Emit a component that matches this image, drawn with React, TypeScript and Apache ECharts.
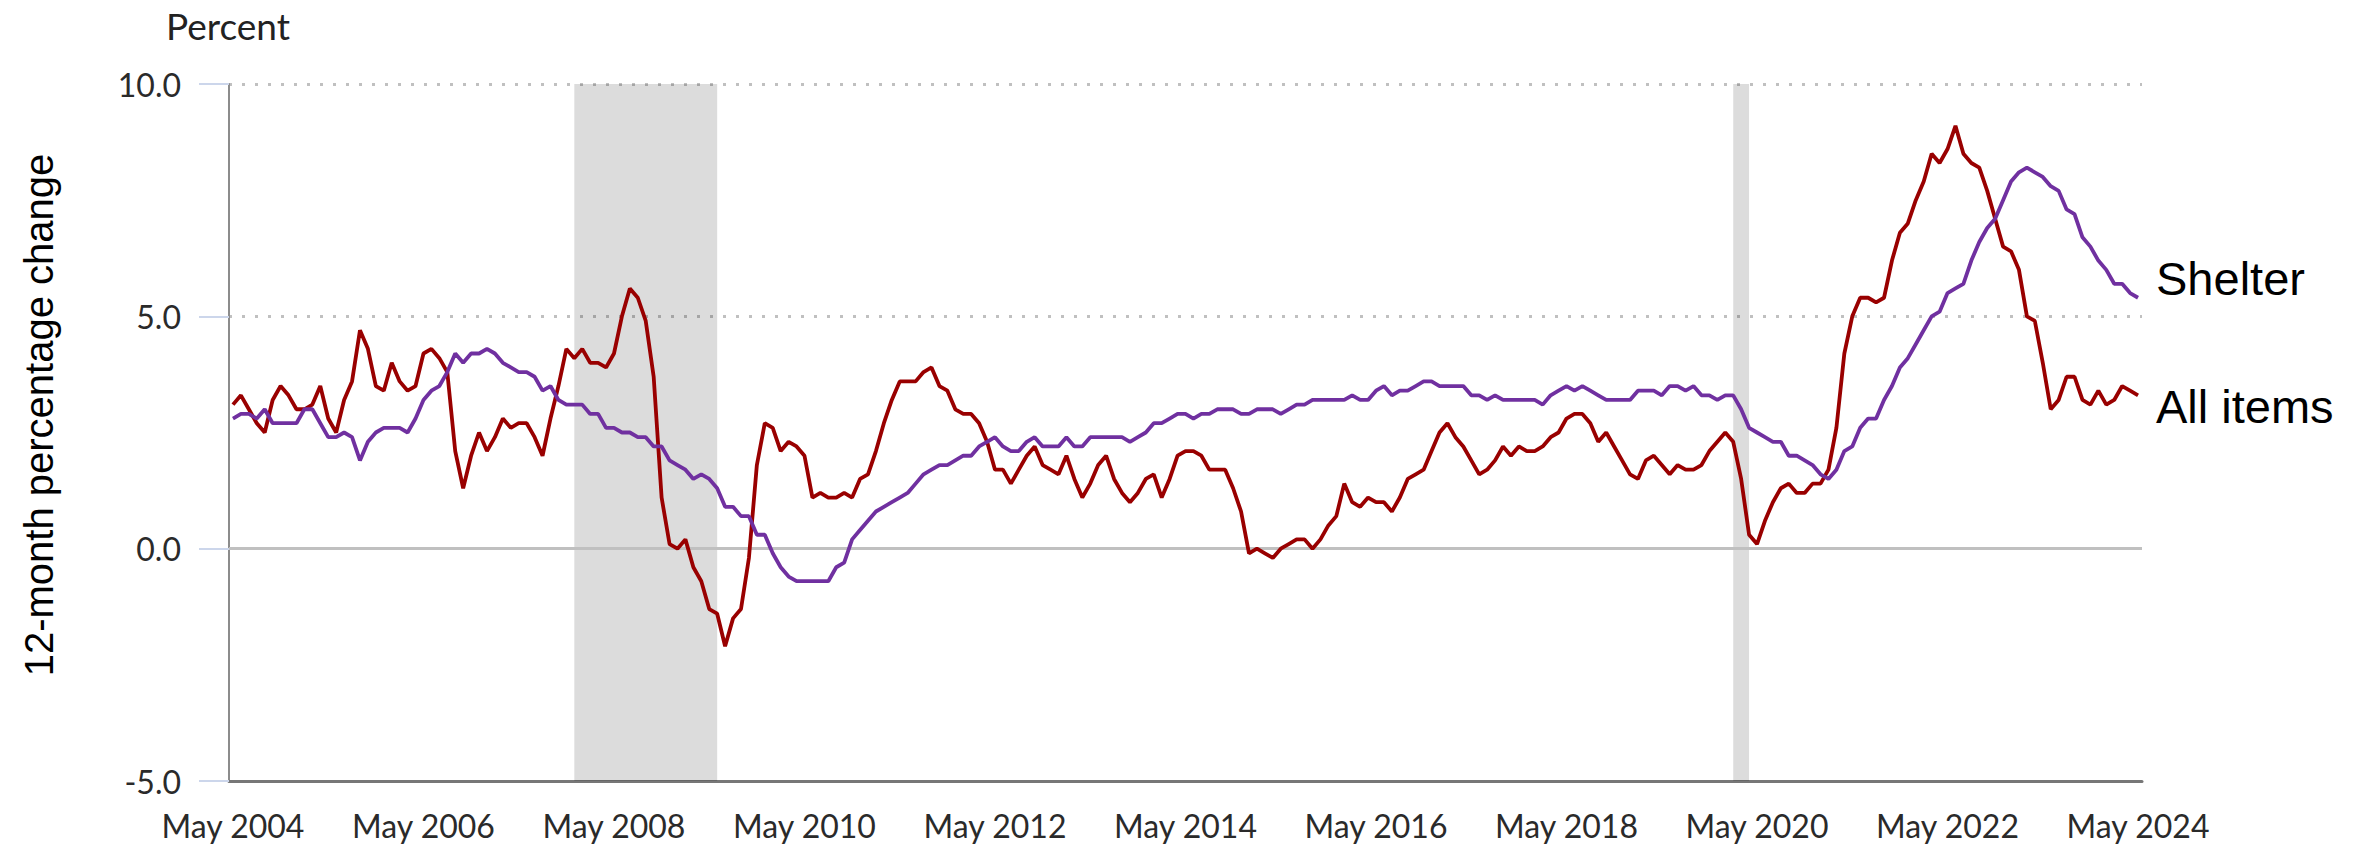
import React, { useEffect, useRef } from "react";
import * as echarts from "echarts";

const MONTH_NAMES = ["Jan", "Feb", "Mar", "Apr", "May", "Jun", "Jul", "Aug", "Sep", "Oct", "Nov", "Dec"];
const START_YEAR = 2004;
const START_MONTH = 4; // May
const N_MONTHS = 241;

const categories: string[] = [];
for (let i = 0; i < N_MONTHS; i++) {
  const k = START_MONTH + i;
  categories.push(`${MONTH_NAMES[k % 12]} ${START_YEAR + Math.floor(k / 12)}`);
}

// All items, 12-month percent change, May 2004 - May 2024
const allItems: number[] = [
  3.1, 3.3, 3.0, 2.7, 2.5, 3.2, 3.5, 3.3,
  3.0, 3.0, 3.1, 3.5, 2.8, 2.5, 3.2, 3.6, 4.7, 4.3, 3.5, 3.4,
  4.0, 3.6, 3.4, 3.5, 4.2, 4.3, 4.1, 3.8, 2.1, 1.3, 2.0, 2.5,
  2.1, 2.4, 2.8, 2.6, 2.7, 2.7, 2.4, 2.0, 2.8, 3.5, 4.3, 4.1,
  4.3, 4.0, 4.0, 3.9, 4.2, 5.0, 5.6, 5.4, 4.9, 3.7, 1.1, 0.1,
  0.0, 0.2, -0.4, -0.7, -1.3, -1.4, -2.1, -1.5, -1.3, -0.2, 1.8, 2.7,
  2.6, 2.1, 2.3, 2.2, 2.0, 1.1, 1.2, 1.1, 1.1, 1.2, 1.1, 1.5,
  1.6, 2.1, 2.7, 3.2, 3.6, 3.6, 3.6, 3.8, 3.9, 3.5, 3.4, 3.0,
  2.9, 2.9, 2.7, 2.3, 1.7, 1.7, 1.4, 1.7, 2.0, 2.2, 1.8, 1.7,
  1.6, 2.0, 1.5, 1.1, 1.4, 1.8, 2.0, 1.5, 1.2, 1.0, 1.2, 1.5,
  1.6, 1.1, 1.5, 2.0, 2.1, 2.1, 2.0, 1.7, 1.7, 1.7, 1.3, 0.8,
  -0.1, 0.0, -0.1, -0.2, 0.0, 0.1, 0.2, 0.2, 0.0, 0.2, 0.5, 0.7,
  1.4, 1.0, 0.9, 1.1, 1.0, 1.0, 0.8, 1.1, 1.5, 1.6, 1.7, 2.1,
  2.5, 2.7, 2.4, 2.2, 1.9, 1.6, 1.7, 1.9, 2.2, 2.0, 2.2, 2.1,
  2.1, 2.2, 2.4, 2.5, 2.8, 2.9, 2.9, 2.7, 2.3, 2.5, 2.2, 1.9,
  1.6, 1.5, 1.9, 2.0, 1.8, 1.6, 1.8, 1.7, 1.7, 1.8, 2.1, 2.3,
  2.5, 2.3, 1.5, 0.3, 0.1, 0.6, 1.0, 1.3, 1.4, 1.2, 1.2, 1.4,
  1.4, 1.7, 2.6, 4.2, 5.0, 5.4, 5.4, 5.3, 5.4, 6.2, 6.8, 7.0,
  7.5, 7.9, 8.5, 8.3, 8.6, 9.1, 8.5, 8.3, 8.2, 7.7, 7.1, 6.5,
  6.4, 6.0, 5.0, 4.9, 4.0, 3.0, 3.2, 3.7, 3.7, 3.2, 3.1, 3.4,
  3.1, 3.2, 3.5, 3.4, 3.3,
];

// Shelter, 12-month percent change, May 2004 - May 2024
const shelter: number[] = [
  2.8, 2.9, 2.9, 2.8, 3.0, 2.7, 2.7, 2.7, 2.7, 3.0, 3.0, 2.7, 2.4, 2.4, 2.5,
  2.4, 1.9, 2.3, 2.5, 2.6, 2.6, 2.6, 2.5, 2.8, 3.2, 3.4, 3.5, 3.8, 4.2, 4.0,
  4.2, 4.2, 4.3, 4.2, 4.0, 3.9, 3.8, 3.8, 3.7, 3.4, 3.5, 3.2, 3.1, 3.1, 3.1,
  2.9, 2.9, 2.6, 2.6, 2.5, 2.5, 2.4, 2.4, 2.2, 2.2, 1.9, 1.8, 1.7, 1.5, 1.6,
  1.5,
  1.3, 0.9, 0.9, 0.7, 0.7, 0.3, 0.3, -0.1, -0.4, -0.6, -0.7, -0.7, -0.7, -0.7, -0.7,
  -0.4, -0.3, 0.2, 0.4, 0.6, 0.8, 0.9, 1.0, 1.1, 1.2, 1.4, 1.6, 1.7, 1.8, 1.8,
  1.9, 2.0, 2.0, 2.2, 2.3, 2.4, 2.2, 2.1, 2.1, 2.3, 2.4, 2.2, 2.2, 2.2, 2.4,
  2.2, 2.2, 2.4, 2.4, 2.4, 2.4, 2.4, 2.3, 2.4, 2.5, 2.7, 2.7, 2.8, 2.9, 2.9,
  2.8, 2.9, 2.9, 3.0, 3.0, 3.0, 2.9, 2.9, 3.0, 3.0, 3.0, 2.9, 3.0, 3.1, 3.1,
  3.2, 3.2, 3.2, 3.2, 3.2, 3.3, 3.2, 3.2, 3.4, 3.5, 3.3, 3.4, 3.4, 3.5, 3.6,
  3.6, 3.5, 3.5, 3.5, 3.5, 3.3, 3.3, 3.2, 3.3, 3.2, 3.2, 3.2, 3.2, 3.2, 3.1,
  3.3, 3.4, 3.5, 3.4, 3.5, 3.4, 3.3, 3.2, 3.2, 3.2, 3.2, 3.4, 3.4, 3.4, 3.3,
  3.5, 3.5, 3.4, 3.5, 3.3, 3.3, 3.2, 3.3, 3.3, 3.0, 2.6, 2.5, 2.4, 2.3, 2.3,
  2.0, 2.0, 1.9, 1.8, 1.6, 1.5, 1.7, 2.1, 2.2, 2.6, 2.8, 2.8, 3.2, 3.5, 3.9,
  4.1, 4.4, 4.7, 5.0, 5.1, 5.5, 5.6, 5.7, 6.2, 6.6, 6.9, 7.1, 7.5, 7.9, 8.1,
  8.2, 8.1, 8.0, 7.8, 7.7, 7.3, 7.2, 6.7, 6.5, 6.2, 6.0, 5.7, 5.7, 5.5, 5.4,
];

const recessions: [string, string][] = [
  ["Dec 2007", "Jun 2009"],
  ["Feb 2020", "Apr 2020"],
];

const Y_MIN = -5;
const Y_MAX = 10;
const Y_STEP = 5;

export default function App() {
  const ref = useRef<HTMLDivElement>(null);

  useEffect(() => {
    document.body.style.margin = "0";
    if (!ref.current) return;
    const chart = echarts.init(ref.current, undefined, { renderer: "svg" });

    const option: any = {
      animation: false,
      backgroundColor: "#ffffff",
      textStyle: { fontFamily: "Lato" },
      grid: { left: 229, right: 222, top: 84, bottom: 65, containLabel: false },
      xAxis: {
        type: "category",
        data: categories,
        boundaryGap: true,
        axisLine: { show: true, onZero: false, lineStyle: { color: "#777777", width: 3 } },
        axisTick: { show: false },
        axisLabel: {
          interval: 23,
          margin: 28,
          fontFamily: "Lato",
          fontSize: 32,
          color: "#2a2a2a",
        },
        splitLine: { show: false },
      },
      yAxis: {
        type: "value",
        min: Y_MIN,
        max: Y_MAX,
        interval: Y_STEP,
        axisLine: { show: true, lineStyle: { color: "#8c8c8c", width: 2 } },
        axisTick: { show: true, length: 30, lineStyle: { color: "#ccd6eb", width: 2 } },
        axisLabel: {
          margin: 48,
          fontFamily: "Lato",
          fontSize: 32,
          color: "#2a2a2a",
          formatter: (v: number) => v.toFixed(1),
        },
        splitLine: { show: true, lineStyle: { color: "#c0c0c0", width: 3, type: [3, 10] } },
      },
      series: [
        {
          type: "line",
          name: "All items",
          data: allItems,
          symbol: "none",
          showSymbol: false,
          lineStyle: { color: "#990000", width: 3.8 },
          itemStyle: { color: "#990000" },
          z: 3,
          markArea: {
            silent: true,
            z: 1,
            itemStyle: { color: "rgba(0,0,0,0.137)" },
            data: recessions.map(([a, b]) => [{ xAxis: a }, { xAxis: b }]),
          },
          markLine: {
            silent: true,
            z: 1.5,
            symbol: ["none", "none"],
            label: { show: false },
            lineStyle: { color: "#c0c0c0", width: 3, type: "solid" },
            data: [{ yAxis: 0 }],
          },
        },
        {
          type: "line",
          name: "Shelter",
          data: shelter,
          symbol: "none",
          showSymbol: false,
          lineStyle: { color: "#7030A0", width: 3.8 },
          itemStyle: { color: "#7030A0" },
          z: 4,
        },
      ],
      graphic: [
        {
          type: "text",
          x: 166,
          y: 25,
          style: {
            text: "Percent",
            fontSize: 37,
            fontFamily: "Lato",
            fill: "#222222",
            align: "left",
            verticalAlign: "middle",
            textAlign: "left",
            textVerticalAlign: "middle",
          },
        },
        {
          type: "text",
          x: 39,
          y: 415,
          rotation: Math.PI / 2,
          style: {
            text: "12-month percentage change",
            fontSize: 40,
            fontFamily: "Liberation Sans",
            fill: "#000000",
            align: "center",
            verticalAlign: "middle",
            textAlign: "center",
            textVerticalAlign: "middle",
          },
        },
        {
          type: "text",
          x: 2156,
          y: 278,
          style: {
            text: "Shelter",
            fontSize: 47,
            fontFamily: "Liberation Sans",
            fill: "#000000",
            align: "left",
            verticalAlign: "middle",
            textAlign: "left",
            textVerticalAlign: "middle",
          },
        },
        {
          type: "text",
          x: 2156,
          y: 406,
          style: {
            text: "All items",
            fontSize: 47,
            fontFamily: "Liberation Sans",
            fill: "#000000",
            align: "left",
            verticalAlign: "middle",
            textAlign: "left",
            textVerticalAlign: "middle",
          },
        },
      ],
    };

    chart.setOption(option);
    return () => {
      chart.dispose();
    };
  }, []);

  return <div ref={ref} style={{ width: 2364, height: 846 }} />;
}
